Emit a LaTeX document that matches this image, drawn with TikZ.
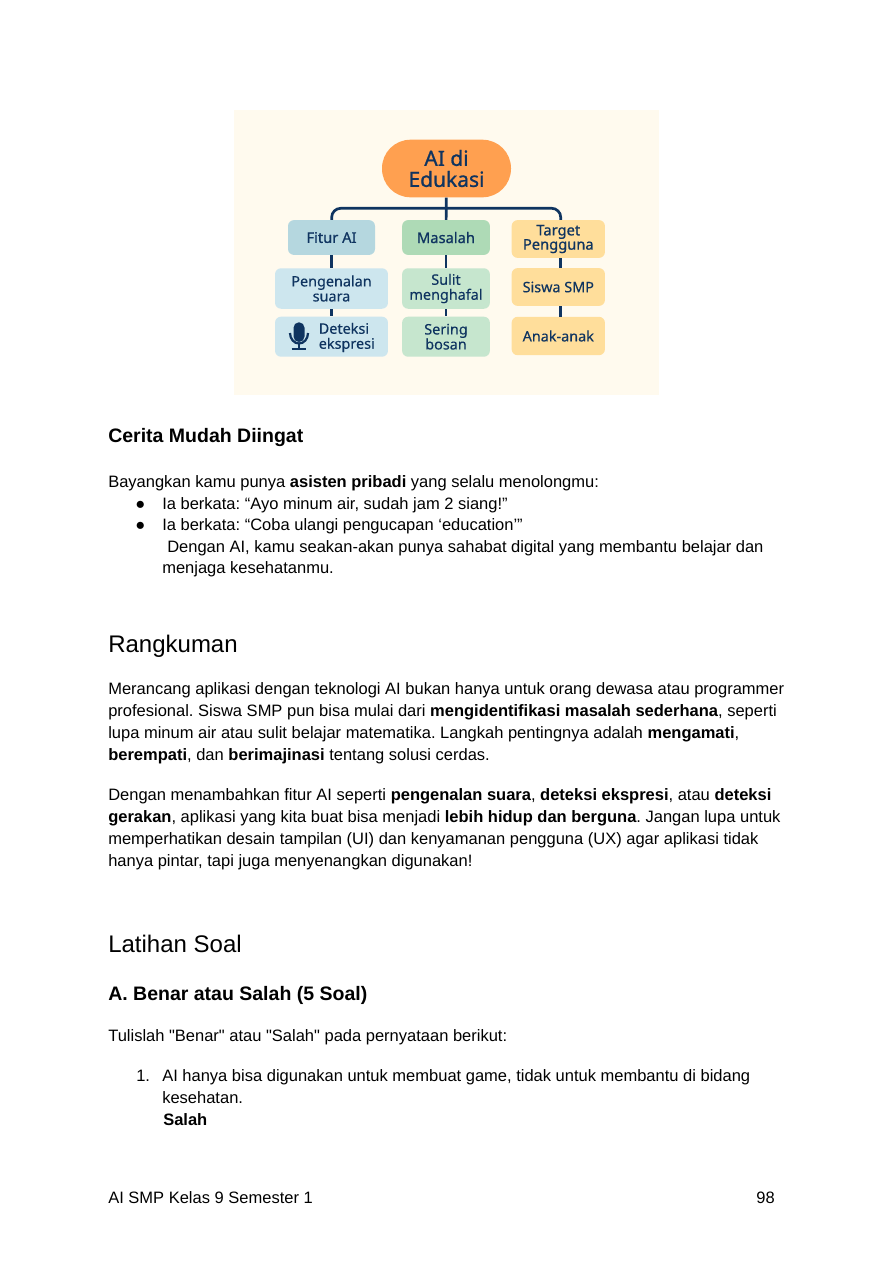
\documentclass[tikz,border=0pt]{standalone}
\usepackage{xcolor}
\usepackage{fontspec}
\setmainfont{Liberation Sans}[Ligatures=TeXOff]
\newfontfamily\chartfont[FakeBold=0.25]{Noto Sans}
\newfontfamily\charthead[FakeBold=0.9]{Noto Sans}
\frenchspacing
\usetikzlibrary{positioning, calc}
\definecolor{AINavy}{RGB}{15,52,96}
\definecolor{AIOrange}{RGB}{255,160,80}
\definecolor{AICream}{RGB}{255,250,238}
\definecolor{AIBlueDark}{RGB}{181,215,223}
\definecolor{AIBlueLight}{RGB}{205,230,238}
\definecolor{AIGreenDark}{RGB}{174,218,182}
\definecolor{AIGreenLight}{RGB}{198,230,206}
\definecolor{AIYellow}{RGB}{255,222,155}

\begin{document}
\begin{tikzpicture}[
          x=0.6667pt, y=-0.6667pt,
          box/.style={rectangle, rounded corners=4pt, inner sep=0pt, align=center,
                      text=AINavy, font=\chartfont\fontsize{9.6}{10}\selectfont},
          head/.style={box, font=\charthead\fontsize{9.8}{9.5}\selectfont},
          conn/.style={AINavy, line width=1.8pt},
          body/.style={anchor=base west, inner sep=0pt, font=\fontsize{11}{13}\selectfont},
          bigtitle/.style={anchor=base west, inner sep=0pt, font=\fontsize{16}{19}\selectfont},
          subtitle/.style={anchor=base west, inner sep=0pt, font=\bfseries\fontsize{13}{16}\selectfont}
        ]
        \useasboundingbox (0,0) rectangle (894,1263);
        \fill[white] (0,0) rectangle (894,1263);
        \fill[AICream] (234,110) rectangle (659,395);

        % Connectors sit under the boxes
        \coordinate (bar) at (446,208.3);
        \coordinate (fiturtop) at (331.7,225);
        \coordinate (targettop) at (560.7,225);
        \draw[conn, rounded corners=6pt] (fiturtop) |- (bar) -| (targettop);

        % Root
        \node[head, fill=AIOrange, rounded corners=19pt, minimum width=86pt, minimum height=38.4pt,
              font=\charthead\fontsize{14}{14}\selectfont]
              (root) at (446.5,168.5) {AI di\\Edukasi};

        % Column heads
        \node[head, fill=AIBlueDark, minimum width=58pt, minimum height=23.2pt]
              (fitur) at (331.5,237.5) {Fitur AI};
        \node[head, fill=AIGreenDark, minimum width=58.5pt, minimum height=23.2pt]
              (masalah) at (446,237.5) {Masalah};
        \node[head, fill=AIYellow, minimum width=62.2pt, minimum height=25.2pt]
              (target) at (558.3,239) {Target\\Pengguna};

        % Fitur AI
        \node[box, fill=AIBlueLight, minimum width=75.3pt, minimum height=27pt]
              (suara) at (331.5,288.5) {Pengenalan\\suara};
        \node[box, fill=AIBlueLight, minimum width=75.3pt, minimum height=26.7pt]
              (ekspresi) at (331.5,336.7) {};
        \node[box, anchor=west, align=left] (ekspresitxt) at (318.5,337.5) {Deteksi\\ekspresi};

        % Masalah
        \node[box, fill=AIGreenLight, minimum width=58.5pt, minimum height=27pt]
              (hafal) at (446,288.5) {Sulit\\menghafal};
        \node[box, fill=AIGreenLight, minimum width=58.5pt, minimum height=26.7pt]
              (bosan) at (446,336.7) {Sering\\bosan};

        % Target Pengguna
        \node[box, fill=AIYellow, minimum width=62.2pt, minimum height=25.2pt]
              (siswa) at (558.3,287) {Siswa SMP};
        \node[box, fill=AIYellow, minimum width=62.2pt, minimum height=25.6pt]
              (anak) at (558.3,336) {Anak-anak};

        % Vertical connectors
        \draw[conn] (root) -- (masalah);
        \draw[conn] (fitur) -- (suara);
        \draw[conn] (suara) -- (ekspresi);
        \draw[conn] (masalah) -- (hafal);
        \draw[conn] (hafal) -- (bosan);
        \draw[conn] ([xshift=1.6pt]target.south) -- ([xshift=1.6pt]siswa.north);
        \draw[conn] ([xshift=1.6pt]siswa.south) -- ([xshift=1.6pt]anak.north);

        % Microphone
        \fill[AINavy, rounded corners=3.6pt] (293.5,322.3) rectangle (304.5,342);
        \draw[AINavy, line width=1.5pt] (290,333) arc[start angle=180, end angle=0, x radius=9, y radius=10.5];
        \draw[AINavy, line width=1.5pt] (299,343.5) -- (299,349.3);
        \draw[AINavy, line width=1.5pt] (291.7,349.3) -- (306.2,349.3);

        % Cerita
        \node[subtitle] (cerita) at (108,442) {Cerita Mudah Diingat};
        \node[body] (bayang) at (108,487) {Bayangkan kamu punya \textbf{asisten pribadi} yang selalu menolongmu:};
        \node[body] (dot1) at (135,509) {●};
        \node[body] (item1) at (162,509) {Ia berkata: “Ayo minum air, sudah jam 2 siang!”};
        \node[body] (dot2) at (135,530) {●};
        \node[body] (item2) at (162,530) {Ia berkata: “Coba ulangi pengucapan ‘education’”};
        \node[body] (item3) at (167,552) {Dengan AI, kamu seakan-akan punya sahabat digital yang membantu belajar dan};
        \node[body] (item4) at (162,573) {menjaga kesehatanmu.};

        % Rangkuman
        \node[bigtitle] (rangkuman) at (108,652) {Rangkuman};
        \node[body] (rk1) at (108,694) {Merancang aplikasi dengan teknologi AI bukan hanya untuk orang dewasa atau programmer};
        \node[body] (rk2) at (108,716) {profesional. Siswa SMP pun bisa mulai dari \textbf{mengidentifikasi masalah sederhana}, seperti};
        \node[body] (rk3) at (108,738) {lupa minum air atau sulit belajar matematika. Langkah pentingnya adalah \textbf{mengamati},};
        \node[body] (rk4) at (108,760) {\textbf{berempati}, dan \textbf{berimajinasi} tentang solusi cerdas.};
        \node[body] (rk5) at (108,800) {Dengan menambahkan fitur AI seperti \textbf{pengenalan suara}, \textbf{deteksi ekspresi}, atau \textbf{deteksi}};
        \node[body] (rk6) at (108,822) {\textbf{gerakan}, aplikasi yang kita buat bisa menjadi \textbf{lebih hidup dan berguna}. Jangan lupa untuk};
        \node[body] (rk7) at (108,844) {memperhatikan desain tampilan (UI) dan kenyamanan pengguna (UX) agar aplikasi tidak};
        \node[body] (rk8) at (108,866) {hanya pintar, tapi juga menyenangkan digunakan!};

        % Latihan
        \node[bigtitle] (latihan) at (108,952) {Latihan Soal};
        \node[subtitle] (benar) at (108,1000) {A. Benar atau Salah (5 Soal)};
        \node[body] (tulis) at (108,1041) {Tulislah "Benar" atau "Salah" pada pernyataan berikut:};
        \node[body] (num1) at (136,1081) {1.};
        \node[body] (soal1) at (162,1081) {AI hanya bisa digunakan untuk membuat game, tidak untuk membantu di bidang};
        \node[body] (soal2) at (162,1103) {kesehatan.};
        \node[body] (jawab) at (163,1125) {\textbf{Salah}};

        % Footer
        \node[body] (foot) at (108,1203) {AI SMP Kelas 9 Semester 1};
        \node[body, anchor=base east] (page) at (775,1203) {98};
      \end{tikzpicture}
\end{document}
